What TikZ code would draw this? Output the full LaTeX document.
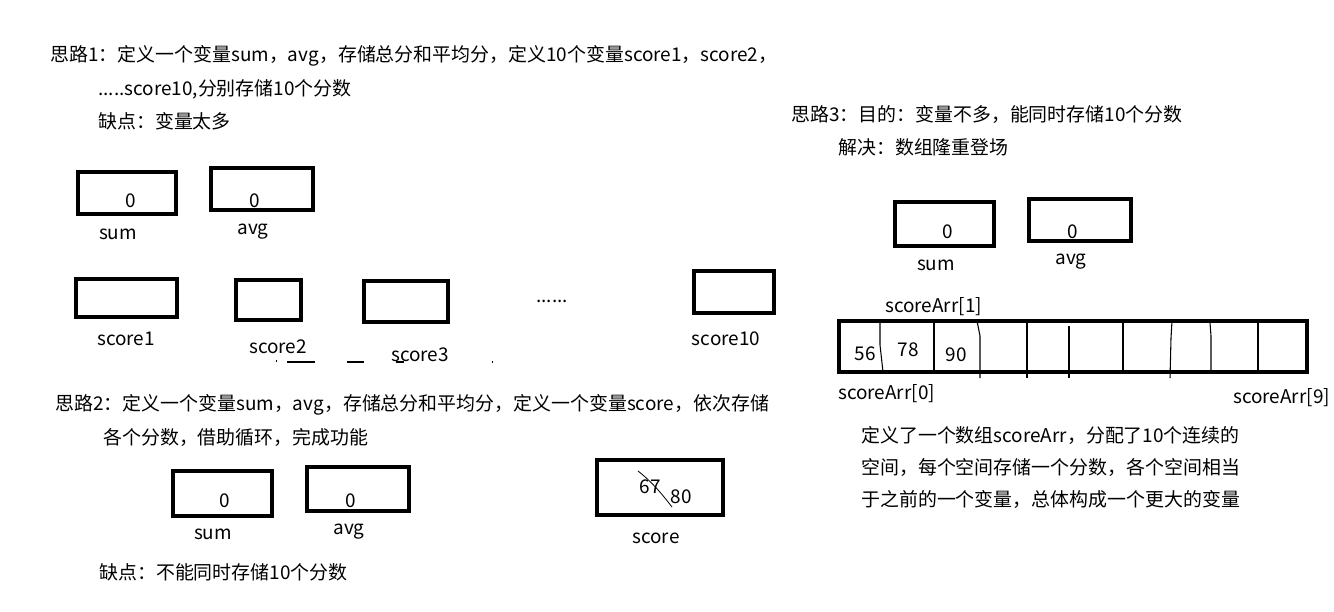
\documentclass[tikz,border=0pt]{standalone}
\usepackage{fontspec}
\setmainfont{Noto Sans CJK SC}
\begin{document}
\begin{tikzpicture}[x=0.75pt,y=-0.75pt,
  box/.style={draw=black,line width=3pt,inner sep=0pt,fill=none},
  txt/.style={inner sep=0pt,font=\fontsize{14.2}{17}\selectfont,anchor=west},
  lbl/.style={inner sep=0pt,font=\fontsize{14.2}{17}\selectfont},
  thin/.style={draw=black,line width=0.8pt},
  speck/.style={draw=black,line width=1pt}]
\useasboundingbox[fill=white] (0,0) rectangle (1334,611);

% ---------- Idea 1 ----------
\node[txt] (t1a) at (50,56) {思路1：定义一个变量sum，avg，存储总分和平均分，定义10个变量score1，score2，};
\node[txt] (t1b) at (98,89) {.....score10,分别存储10个分数};
\node[txt] (t1c) at (98,121) {缺点：变量太多};

\node[box,minimum width=73.5pt,minimum height=31.5pt] (sum1) at (127,193) {};
\node[lbl] (sum1v) at (131,201) {0};
\node[lbl] (sum1l) at (118,234) {sum};
\node[box,minimum width=76.5pt,minimum height=31.5pt] (avg1) at (262,189) {};
\node[lbl] (avg1v) at (255,201) {0};
\node[lbl] (avg1l) at (253,232) {avg};

\node[box,minimum width=75.75pt,minimum height=28.5pt] (s1) at (126.5,298) {};
\node[lbl] (s1l) at (126,339) {score1};
\node[box,minimum width=48.75pt,minimum height=30pt] (s2) at (268.5,300) {};
\node[lbl] (s2l) at (278,347) {score2};
\node[box,minimum width=63pt,minimum height=30.75pt] (s3) at (406,301.5) {};
\node[lbl] (s3l) at (420,355) {score3};
\node[lbl,anchor=base] (dots) at (552,302) {......};
\node[box,minimum width=60pt,minimum height=31.5pt] (s10) at (734,292) {};
\node[lbl] (s10l) at (726,339) {score10};

% small specks
\draw[speck] (287,362) -- (315,362);
\draw[speck] (347,362) -- (364,362);
\draw[speck] (396,362) -- (404,362);
\draw[speck] (276,361) -- (277,361);
\draw[speck] (492,362) -- (493,362);

% ---------- Idea 2 ----------
\node[txt] (t2a) at (55,405) {思路2：定义一个变量sum，avg，存储总分和平均分，定义一个变量score，依次存储};
\node[txt] (t2b) at (103,437) {各个分数，借助循环，完成功能};

\node[box,minimum width=74.25pt,minimum height=33.75pt] (sum2) at (222.5,493.5) {};
\node[lbl] (sum2v) at (225,501) {0};
\node[lbl] (sum2l) at (213,534) {sum};
\node[box,minimum width=76.5pt,minimum height=33pt] (avg2) at (358,489) {};
\node[lbl] (avg2v) at (351,501) {0};
\node[lbl] (avg2l) at (349,532) {avg};

\node[box,minimum width=94.5pt,minimum height=41.25pt] (score) at (660,487.5) {};
\node[lbl] (v67) at (650,487) {67};
\node[lbl] (v80) at (681,497) {80};
\draw[thin,line width=0.6pt] (638,471) .. controls (652,482) and (662,494) .. (672,507);
\node[lbl] (scorel) at (656,538) {score};

\node[txt] (t2c) at (99,572) {缺点：不能同时存储10个分数};

% ---------- Idea 3 ----------
\node[txt] (t3a) at (791,114) {思路3：目的：变量不多，能同时存储10个分数};
\node[txt] (t3b) at (838,147) {解决：数组隆重登场};

\node[box,minimum width=74.25pt,minimum height=33pt] (sum3) at (944.5,224) {};
\node[lbl] (sum3v) at (948,232) {0};
\node[lbl] (sum3l) at (936,265) {sum};
\node[box,minimum width=76.5pt,minimum height=31.5pt] (avg3) at (1080,220) {};
\node[lbl] (avg3v) at (1073,232) {0};
\node[lbl] (avg3l) at (1071,262) {avg};

\node[txt] (a1) at (885,307) {scoreArr[1]};
\node[box,minimum width=351pt,minimum height=38.25pt] (arr) at (1073,346.5) {};
\draw[thin] (880,321) -- (880,345) -- (883,372);
\draw[thin] (934,321) -- (934,372);
\draw[thin] (977,321) -- (980,336) -- (980,378);
\draw[thin] (1027,321) -- (1027,378);
\draw[thin] (1069,326) -- (1069,378);
\draw[thin] (1123,321) -- (1123,372);
\draw[thin] (1172,321) -- (1171,338) -- (1170,378);
\draw[thin] (1210,323) -- (1211,336) -- (1211,372);
\draw[thin] (1258,321) -- (1258,372);
\node[lbl] (v56) at (865,354) {56};
\node[lbl] (v78) at (908,350) {78};
\node[lbl] (v90) at (956,355) {90};
\node[txt] (a0) at (838,394) {scoreArr[0]};
\node[txt] (a9) at (1233,398) {scoreArr[9]};

\node[txt] (t3c) at (861,435) {定义了一个数组scoreArr，分配了10个连续的};
\node[txt] (t3d) at (861,467) {空间，每个空间存储一个分数，各个空间相当};
\node[txt] (t3e) at (861,499) {于之前的一个变量，总体构成一个更大的变量};
\end{tikzpicture}
\end{document}
